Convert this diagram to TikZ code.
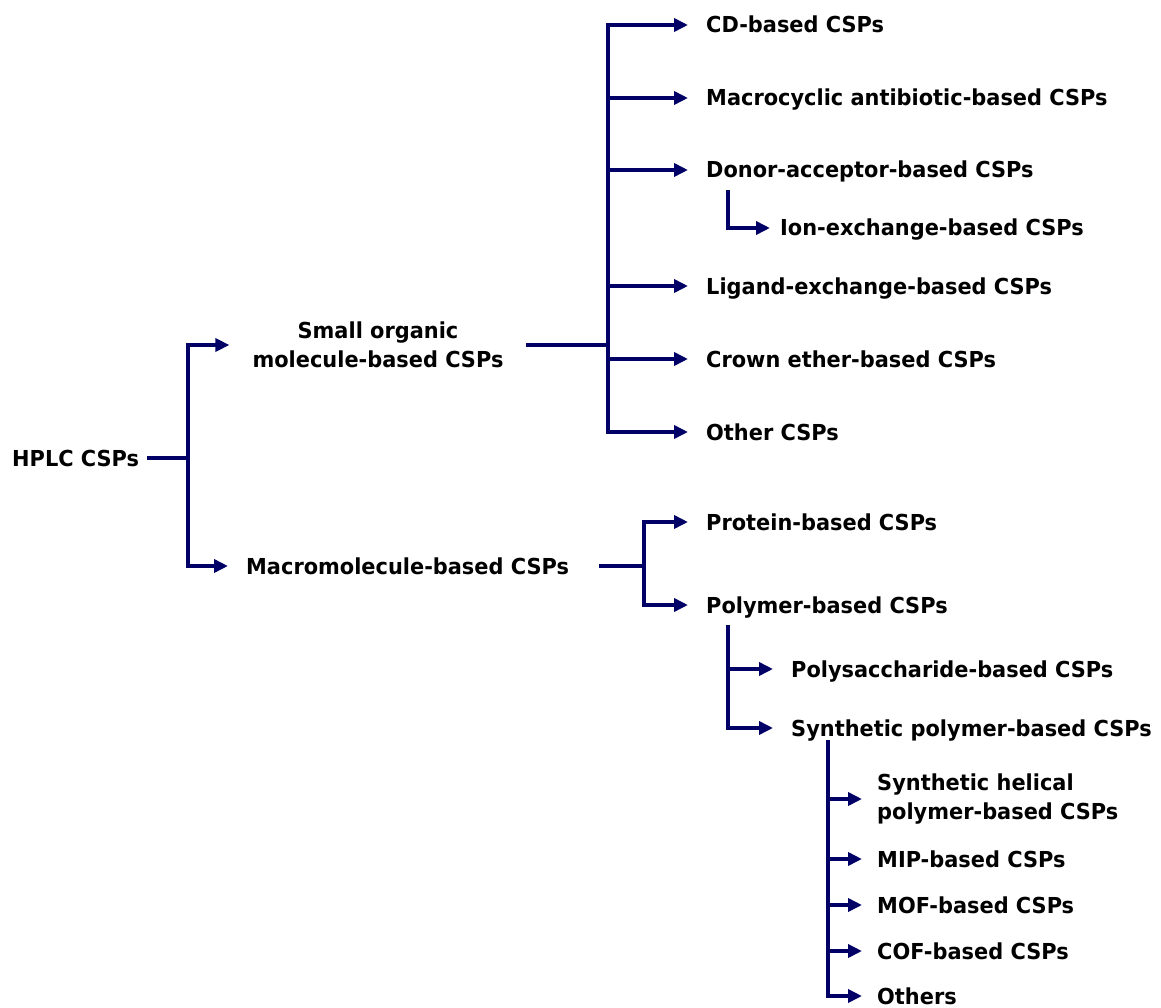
\documentclass[tikz,border=0pt]{standalone}
\usepackage{fontspec}
\setmainfont{DejaVu Sans}[FakeStretch=0.95]
\usetikzlibrary{arrows.meta}
\definecolor{navy}{RGB}{0,0,102}
\newcommand\lblfont{\bfseries\fontsize{22}{29}\selectfont}
\begin{document}
\begin{tikzpicture}[x=1pt, y=-1pt,
    lbl/.style={font=\lblfont, anchor=west, inner sep=0pt, text height=16pt, text depth=0pt},
    lbltwo/.style={font=\lblfont, inner sep=0pt},
    link/.style={draw=navy, line width=4.2pt, line cap=rect},
    arr/.style={link, -{Triangle[length=14pt, width=13pt]}, shorten >=18pt}]
  \useasboundingbox (0,0) rectangle (1161,1008);
  % root and first level
  \node[lbl] (hplc) at (12,458) {HPLC CSPs};
  \node[lbltwo, align=center] (small) at (378,345) {Small organic\\molecule-based CSPs};
  \node[lbl] (macro) at (246,566) {Macromolecule-based CSPs};
  \coordinate (j0) at (188,458);
  \draw[link, shorten <=10pt] (hplc.east) -- (j0);
  \draw[arr, shorten >=23pt] (j0) |- (small.west);
  \draw[arr] (j0) |- (macro.west);
  % small organic molecule branch
  \coordinate (j1) at (608,345);
  \draw[link, shorten <=24pt] (small.east) -- (j1);
  \node[lbl] (cd) at (706,25) {CD-based CSPs};
  \node[lbl] (macrocyc) at (706,98) {Macrocyclic antibiotic-based CSPs};
  \node[lbl] (donor) at (706,170) {Donor-acceptor-based CSPs};
  \node[lbl] (ion) at (780,228) {Ion-exchange-based CSPs};
  \node[lbl] (ligand) at (706,286) {Ligand-exchange-based CSPs};
  \node[lbl] (crown) at (706,359) {Crown ether-based CSPs};
  \node[lbl] (other) at (706,432) {Other CSPs};
  \draw[link] (j1 |- cd.west) -- (j1 |- other.west);
  \foreach \n in {cd,macrocyc,donor,ligand,crown,other}
    \draw[arr] (j1 |- \n.west) -- (\n.west);
  \draw[arr, shorten >=10pt] ([shift={(22,22)}]donor.west) |- (ion.west);
  % macromolecule branch
  \coordinate (j2) at (644,566);
  \draw[link, shorten <=32pt] (macro.east) -- (j2);
  \node[lbl] (protein) at (706,522) {Protein-based CSPs};
  \node[lbl] (polymer) at (706,605) {Polymer-based CSPs};
  \draw[arr] (j2) |- (protein.west);
  \draw[arr] (j2) |- (polymer.west);
  % polymer branch
  \node[lbl] (polysac) at (791,669) {Polysaccharide-based CSPs};
  \node[lbl] (synth) at (791,728) {Synthetic polymer-based CSPs};
  \coordinate (j3) at ([shift={(22,22)}]polymer.west);
  \draw[arr] (j3) |- (polysac.west);
  \draw[arr] (j3) |- (synth.west);
  % synthetic polymer branch
  \node[lbltwo, align=left, anchor=west] (helical) at (877,799) {Synthetic helical\\polymer-based CSPs};
  \node[lbl] (mip) at (877,859) {MIP-based CSPs};
  \node[lbl] (mof) at (877,905) {MOF-based CSPs};
  \node[lbl] (cof) at (877,951) {COF-based CSPs};
  \node[lbl] (others) at (877,996) {Others};
  \coordinate (j4) at ([shift={(37,14)}]synth.west);
  \draw[link] (j4) -- (j4 |- others.west);
  \foreach \n in {helical,mip,mof,cof,others}
    \draw[arr, shorten >=15pt] (j4 |- \n.west) -- (\n.west);
\end{tikzpicture}
\end{document}
